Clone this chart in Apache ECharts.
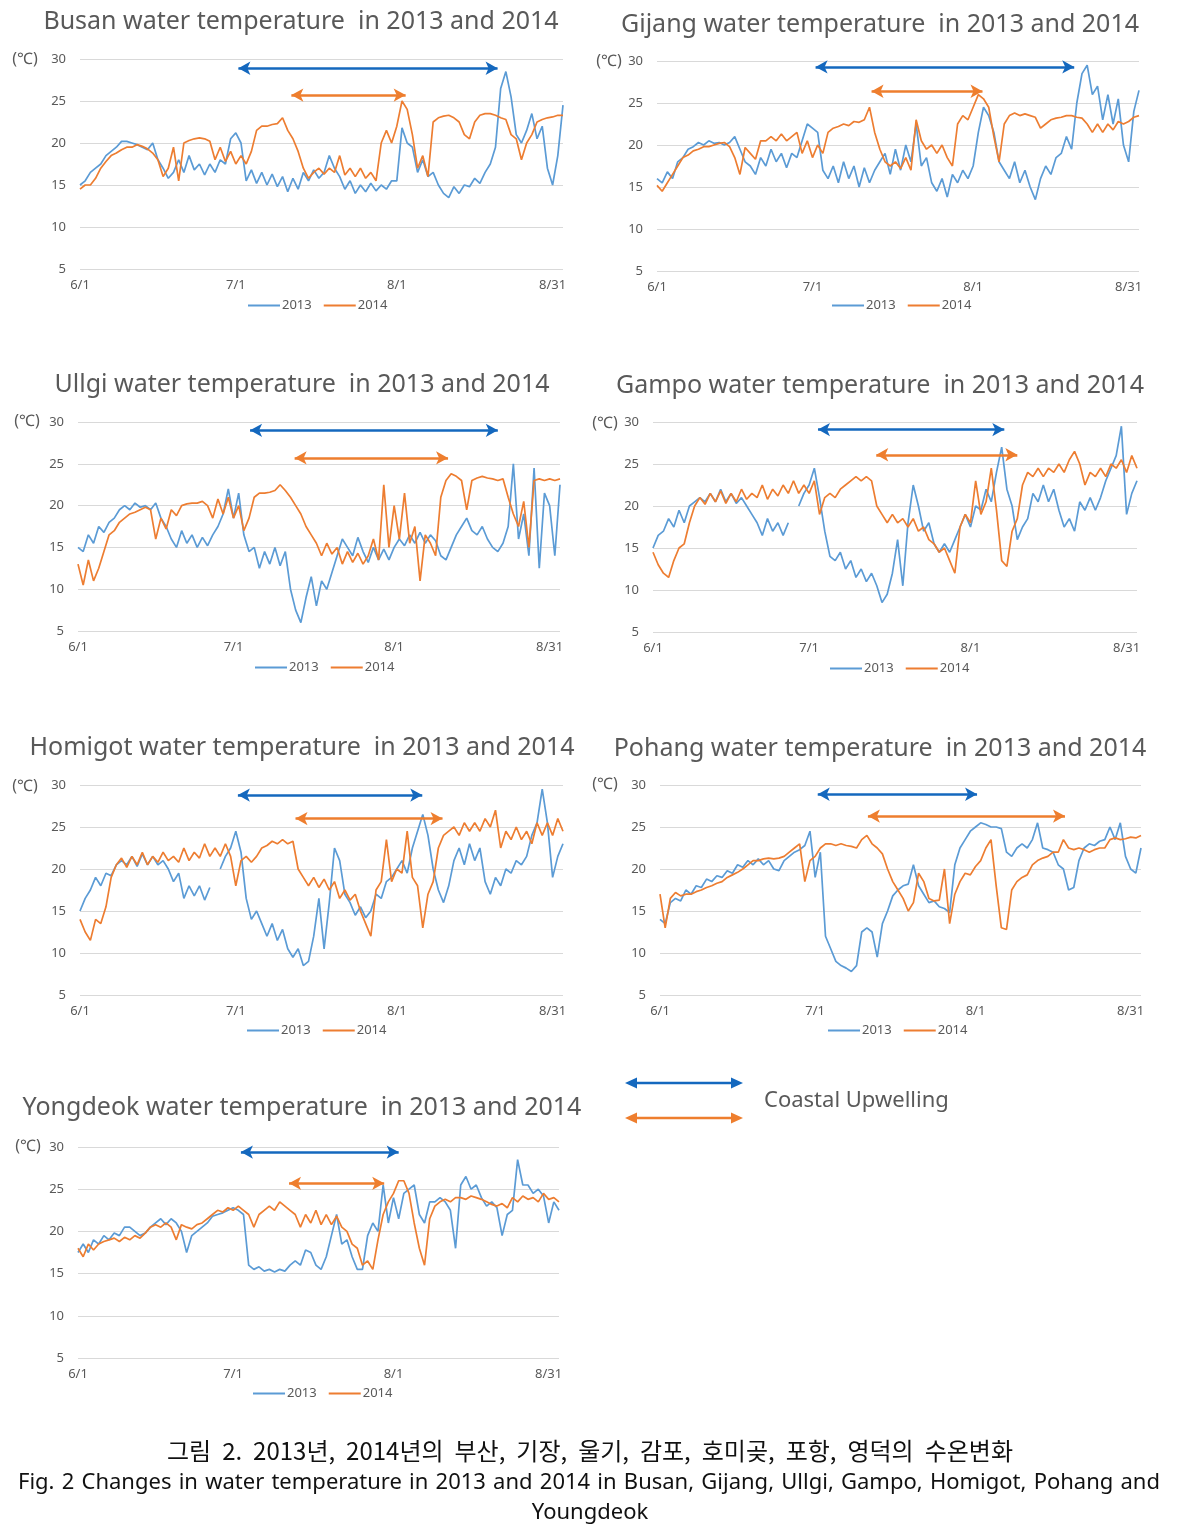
<!DOCTYPE html>
<html><head><meta charset="utf-8">
<script src="https://cdn.jsdelivr.net/npm/echarts@6/dist/echarts.min.js"></script>
<style>html,body{margin:0;padding:0;background:#fff}#c{width:1179px;height:1531px}</style>
</head><body><div id="c"></div>
<script>
// ---- axis ticks (day index from 6/1) ----
const xTickDays = [0, 30, 61, 91];
const xTickLabels = ['6/1', '7/1', '8/1', '8/31'];
const seriesNames = ['2013', '2014'];
const stations = ['Busan', 'Gijang', 'Ullgi', 'Gampo', 'Homigot', 'Pohang', 'Yongdeok'];

// ---- daily water temperature (°C), day 0 = 6/1 ----
const busan2013 = [15,15.5,16.5,17,17.5,18.5,19,19.5,20.2,20.2, 20,19.8,19.5,19.2,20,18,17,15.8,16.5,18, 16.5,18.5,16.8,17.5,16.2,17.5,16.5,18,17.5,20.5, 21.2,20,15.5,16.8,15.2,16.5,15,16.3,14.8,16, 14.2,15.8,14.5,16.5,15.5,16.8,15.8,16.5,18.5,17, 16,14.5,15.5,14,15,14.2,15.2,14.3,15,14.5, 15.5,15.5,21.8,20,19.5,16.5,18,16,16.5,15, 14,13.5,14.8,14,15,14.8,15.8,15.2,16.5,17.5, 19.5,26.5,28.5,25.5,21,20,21.5,23.5,20.5,22, 17,15,18.5,24.5];
const busan2014 = [14.5,15,15,15.8,17,17.8,18.5,18.8,19.2,19.5, 19.5,19.8,19.6,19.3,18.8,18,16,17,19.5,15.5, 20,20.3,20.5,20.6,20.5,20.2,18,19.5,17.8,19, 17.5,18.5,17.5,19,21.5,22,22,22.2,22.3,23, 21.5,20.5,19,17,15.8,16.5,17,16.3,17,16.5, 18.5,16.2,17,16,17,15.8,16.5,15.5,20,21.5, 20,22,25,24,21,17,18.5,16,22.5,23, 23.2,23.3,23,22.5,21,20.5,22.5,23.3,23.5,23.5, 23.3,23,22.8,21,20.5,18,20,21,22.5,22.8, 23,23.1,23.3,23.3];
const gijang2013 = [16,15.5,16.8,16,18,18.5,19.5,19.8,20.3,20, 20.5,20.2,20.3,20,20.3,21,19.5,18,17.5,16.5, 18.5,17.5,19.5,18,19,17.3,19,18.5,20.5,22.5, 22,21.5,17,16,17.5,15.5,18,16,17.5,15, 17.3,15.5,17,18,19,16.5,19.5,17,20,18, 22.5,17.5,18.5,15.5,14.5,16,13.8,16.5,15.5,17, 16,17.5,21.5,24.5,23.5,21.5,18,17,16,18, 15.5,17,15,13.5,16,17.5,16.5,18.5,19,21, 19.5,25,28.5,29.5,26,27,23,26,22.5,25.5, 20,18,24,26.5];
const gijang2014 = [15.2,14.5,15.5,16.5,17.5,18.5,18.8,19.3,19.5,19.8, 19.8,20,20.2,20.3,19.8,18.5,16.5,19.7,19,18.3, 20.5,20.5,21,20.5,21.3,20.5,21,21.5,19,20.5, 18.5,20,19,21.5,22,22.2,22.5,22.3,22.8,22.7, 23,24.5,21.5,19.5,18,17.5,18,17.2,18.5,17, 23,20.5,19.5,20,19,20,18.5,17.5,22.5,23.5, 23,24.5,26,25.5,24.5,21,18,22.5,23.5,23.8, 23.5,23.7,23.5,23.3,22,22.5,23,23.2,23.3,23.5, 23.5,23.3,23.2,22.5,21.5,22.5,21.5,22.5,21.8,22.8, 22.5,22.8,23.3,23.5];
const ullgi2013 = [15,14.5,16.5,15.5,17.5,16.8,18,18.5,19.5,20, 19.5,20.3,19.8,20,19.5,20.3,18.5,17.5,16,15, 17,15.5,16.5,15,16.2,15.2,16.5,17.5,19,22, 18.5,21.5,16.5,14.5,15,12.5,14.5,13,15,12.8, 14.5,10,7.5,6,9,11.5,8,11,10,12, 14,16,15,14,16.2,14.5,13.2,15,13.5,14.8, 13.5,15,16,15.2,16.5,15.5,16.8,15.5,16.5,15.8, 14,13.5,15,16.5,17.5,18.5,17,16.5,17.5,16, 15,14.5,15.5,17.5,25,16,19,14,24.5,12.5, 21.5,20,14,22.5];
const ullgi2014 = [13,10.5,13.5,11,12.5,14.5,16.5,17,18,18.5, 19,19.2,19.5,19.8,19.5,16,18.5,17.2,19.5,18.8, 20,20.2,20.3,20.3,20.5,20,18.5,20.8,19,21, 18.5,20,17,18.5,21,21.5,21.5,21.6,21.8,22.5, 21.8,21,20,19,17.5,16.5,15.5,14,15.5,14.2, 15,13,14.5,13.2,14.3,13,14,16,13.5,22.5, 15,20,16,21.5,15.5,17.5,11,16.5,15.5,14, 21,23,23.8,23.5,23,19.5,23,23.3,23.5,23.3, 23.2,23,23.2,21,19,17.5,20.5,15,23,23.2, 23,23.2,23,23.2];
const gampo2013 = [15,16.5,17,18.5,17.5,19.5,18,20,20.5,21, 20.5,21.5,20.5,22,20.5,21.5,20.3,21,20,19, 18,16.5,18.5,17,18,16.5,18,null,20,21.5, 22.5,24.5,21,17,14,13.5,14.5,12.5,13.5,11.5, 12.5,11,12,10.5,8.5,9.5,12,16,10.5,18, 22.5,20,17,18,15.5,14.5,15.5,14.5,16,17.5, 19,17.5,20,19.5,22,20.5,24,27,22,20, 16,17.5,18.5,21.5,20.5,22.5,20.5,22,19.5,17.5, 18.5,17,20.5,19.5,21,19.5,21,23,24.5,26, 29.5,19,21.5,23];
const gampo2014 = [14.5,13,12,11.5,13.5,15,15.5,18,20,21, 20.2,21.5,20.5,21.8,20.3,21.5,20.5,22,20.8,21.5, 21,22.5,20.8,22,21.2,22.5,21.5,23,21.5,22.5, 21.5,23,19,21,21.5,21,22,22.5,23,23.5, 23,23.5,23,20,19,18,19,18,18.5,17.5, 18.5,17,17.5,16,15.5,14.5,15,13.5,12,17.5, 19,18,23,19,20.5,24.5,19.5,13.5,12.8,17, 18.5,22.5,24,23.5,24.5,23.5,24.5,24,25,24, 25.5,26.5,25,22.5,24,23.5,24.5,23.5,25,24.5, 25.5,24,26,24.5];
const homigot2013 = [15,16.5,17.5,19,18,19.5,19.2,20.5,21,20.5, 21.5,20.3,21.8,20.5,21.5,20.5,21,20,18.5,19.5, 16.5,18,16.8,18,16.3,17.8,null,20,21.5,22.5, 24.5,22,16.5,14,15,13.5,12,13.5,11.5,12.8, 10.5,9.5,10.5,8.5,9,12,16.5,10.5,16,22.5, 21,17,16,14.5,15.5,14.2,15,17,16.5,18.5, 19,20,21,19.5,22.5,24.5,26.5,24,20,17.5, 16,18,21,22.5,20.5,23,21,22.5,18.5,17, 19,18,20,19.5,21,20.5,21.5,24,25.5,29.5, 25.5,19,21.5,23];
const homigot2014 = [14,12.5,11.5,14,13.5,15.5,19,20.5,21.3,20.2, 21.5,20.5,22,20.5,21.5,20.8,22,21,21.5,20.8, 22.5,21,22,21.3,23,21.5,22.5,21.5,23,21.5, 18,21,21.5,20.8,21.5,22.5,22.8,23.3,23,23.5, 23,23.3,20,19,18,19,17.8,18.8,17.5,18.5, 16.5,17.5,16.3,17,15,13.5,12,17.5,18.5,23.5, 18.5,20,19.5,24.5,19,18,13,17,18.5,22.5, 24,24.5,25,24,25.5,24.5,25.5,24.5,26,25, 27,22.5,24.5,23.5,25,23.5,24.5,23,25.5,24, 25.5,24,26,24.5];
const pohang2013 = [14,13.5,16,16.5,16.2,17.5,17,18,17.8,18.8, 18.5,19.2,19,19.8,19.5,20.5,20.2,21,20.5,21.2, 20.5,21,20,19.8,21,21.5,22,22.3,22.8,24.5, 19,22,12,10.5,9,8.5,8.2,7.8,8.5,12.5, 13,12.5,9.5,13.5,15,16.8,17.5,18,18.2,20.5, 18,17,16,16.2,15.5,15.3,14.8,20.5,22.5,23.5, 24.5,25,25.5,25.3,25,25,24.8,22,21.5,22.5, 23,22.5,23.5,25.5,22.5,22.3,22,20.5,20,17.5, 17.8,21,22.5,23,22.8,23.3,23.5,25,23.5,25.5, 21.5,20,19.5,22.5];
const pohang2014 = [17,13,16.5,17.2,16.8,17,17,17.3,17.5,17.8, 18,18.3,18.5,19,19.3,19.6,20,20.5,21,21, 21.2,21.3,21.2,21.3,21.5,22,22.5,23,18.5,21, 21.5,22.5,23,23,22.8,23,22.8,22.7,22.5,23.5, 24,23,22.5,21.8,20,18.5,17.5,16.5,15,16, 19.5,18.5,16.5,16.2,16.3,20,13.5,17,18.5,19.5, 19.3,20.3,21,22.5,23.5,18,13,12.8,17.5,18.5, 19,19.3,20.5,21,21.3,21.5,22,22,23.5,22.5, 22.3,22.5,22.3,22,22.3,22.5,22.5,23.5,23.7,23.5, 23.6,23.8,23.7,24];
const yongdeok2013 = [17.5,18.5,17.5,19,18.5,19.5,19,19.8,19.5,20.5, 20.5,20,19.5,19.8,20.5,21,21.5,20.8,21.5,21, 20,17.5,19.5,20,20.5,21,21.8,22,22.2,22.5, 22.8,22.5,22,16,15.5,15.8,15.3,15.5,15.2,15.5, 15.3,16,16.5,16,17.8,17.5,16,15.5,17,19.5, 22,18.5,19,17,15.5,15.5,19.5,21,20,25.5, 21,24,21.5,24.5,25,25.5,22,21,23.5,23.5, 24,23.5,22.5,18,25.5,26.5,25,25.5,24,23, 23.5,22.8,19.5,22,22.5,28.5,25.5,25.5,24.5,25, 24.2,21,23.5,22.5];
const yongdeok2014 = [18,17,18.5,17.8,18.5,18.8,19,19.2,18.8,19.3, 19,19.5,19.2,19.8,20.5,20.8,20.5,21,20.5,19, 20.8,20.5,20.3,20.8,21,21.5,22,22.5,22.3,22.8, 22.5,23,22.5,22,20.5,22,22.5,23,22.5,23.5, 23,22.5,22,20.5,22,21,22.5,20.8,22,20.8, 21.8,20.5,20,18.5,18,16,16.5,15.5,19,22, 23.5,24.5,26,26,24.5,21,18,16,21.5,23, 23.5,23.8,23.5,24,24,23.8,24.2,24,23.8,23.5, 23.2,23,23.3,22.8,24,23.5,24.2,23.8,24,23.5, 24.5,23.8,24,23.5];

// ---- coastal upwelling periods: [start day, end day, drawn at °C level] ----
const upwelling2013 = [[30.5,80.4,28.9],[30.6,80.5,29.3],[33.2,81,29],[31.7,67.5,29.1],[30.4,65.9,28.8],[30.5,61.3,28.9],[31.5,62,29.4]];
const upwelling2014 = [[40.7,62.7,25.7],[41.4,62.8,26.4],[41.8,71.4,25.7],[42.9,70,26.1],[41.5,69.8,26],[40.2,78.3,26.3],[40.8,59.2,25.7]];

const data2013 = [busan2013, gijang2013, ullgi2013, gampo2013, homigot2013, pohang2013, yongdeok2013];
const data2014 = [busan2014, gijang2014, ullgi2014, gampo2014, homigot2014, pohang2014, yongdeok2014];

// ---- layout (pixels) ----
const layout = [
  {left:80,  top:59,   width:483, height:210, title:[301,22],  unit:[25,59],   legend:[243,302]},
  {left:657, top:61,   width:482, height:210, title:[880,25],  unit:[609,61],  legend:[827,302]},
  {left:78,  top:422,  width:482, height:209, title:[302,385], unit:[27,421],  legend:[250,664]},
  {left:653, top:422,  width:484, height:210, title:[880,386], unit:[605,423], legend:[825,665]},
  {left:80,  top:785,  width:483, height:210, title:[302,748], unit:[25,786],  legend:[242,1027]},
  {left:660, top:785,  width:481, height:210, title:[880,749], unit:[605,784], legend:[823,1027]},
  {left:78,  top:1147, width:481, height:211, title:[302,1108],unit:[28,1146], legend:[248,1390]}
];

const BLUE = '#5B9BD5', ORANGE = '#ED7D31', ARROW_BLUE = '#1468BE', ARROW_ORANGE = '#EE7E2E', GREY = '#595959';
const UI = "'Noto Sans','DejaVu Sans',sans-serif";

function pairs(arr) { return arr.map((v, i) => [i, v === null ? '-' : v]); }

function upMark(p, color) {
  return {
    silent: true, animation: false,
    symbol: ['arrow', 'arrow'], symbolSize: [10, 12],
    label: {show: false}, emphasis: {disabled: true},
    lineStyle: {color: color, width: 2.5, type: 'solid', opacity: 1},
    data: [[{coord: [p[0], p[2]]}, {coord: [p[1], p[2]]}]]
  };
}

const grid = [], xAxis = [], yAxis = [], series = [], legend = [], graphic = [];
layout.forEach((L, i) => {
  grid.push({left: L.left, top: L.top, width: L.width, height: L.height, containLabel: false, outerBoundsMode: 'none'});
  xAxis.push({type: 'value', gridIndex: i, min: 0, max: 93,
    axisLine: {show: false}, axisTick: {show: false}, splitLine: {show: false},
    axisLabel: {customValues: xTickDays, formatter: v => xTickLabels[xTickDays.indexOf(v)] || '',
      fontSize: 13, color: GREY, margin: 10, fontFamily: UI}});
  yAxis.push({type: 'value', gridIndex: i, min: 5, max: 30, interval: 5,
    axisLine: {show: false}, axisTick: {show: false},
    splitLine: {lineStyle: {color: '#D9D9D9', width: 1.2}},
    axisLabel: {fontSize: 13, color: GREY, margin: 14, fontFamily: UI}});
  series.push({type: 'line', name: seriesNames[0], xAxisIndex: i, yAxisIndex: i, data: pairs(data2013[i]),
    showSymbol: false, symbol: 'none', connectNulls: false, z: 2,
    lineStyle: {width: 1.7, color: BLUE}, itemStyle: {color: BLUE},
    markLine: upMark(upwelling2013[i], ARROW_BLUE)});
  series.push({type: 'line', name: seriesNames[1], xAxisIndex: i, yAxisIndex: i, data: pairs(data2014[i]),
    showSymbol: false, symbol: 'none', connectNulls: false, z: 3,
    lineStyle: {width: 1.7, color: ORANGE}, itemStyle: {color: ORANGE},
    markLine: upMark(upwelling2014[i], ARROW_ORANGE)});
  legend.push({left: L.legend[0], top: L.legend[1] - 8, icon: 'rect', itemWidth: 32, itemHeight: 2, itemGap: 12,
    selectedMode: false, data: seriesNames, textStyle: {fontSize: 13, color: GREY, fontFamily: UI, padding: [0, 0, 0, -3]}});
  graphic.push({type: 'text', x: L.title[0], y: L.title[1], style: {
    text: stations[i] + ' water temperature  in 2013 and 2014', font: "25px " + UI, fill: GREY,
    textAlign: 'center', textVerticalAlign: 'middle'}});
  graphic.push({type: 'text', x: L.unit[0], y: L.unit[1], style: {
    text: '(℃)', font: "16px " + UI, fill: GREY, textAlign: 'center', textVerticalAlign: 'middle'}});
});

// Coastal upwelling key
function keyArrow(y, color) {
  return [
    {type: 'line', shape: {x1: 634, y1: y, x2: 734, y2: y}, style: {stroke: color, lineWidth: 2.5}},
    {type: 'polygon', shape: {points: [[625, y], [637, y - 5.5], [637, y + 5.5]]}, style: {fill: color}},
    {type: 'polygon', shape: {points: [[743, y], [731, y - 5.5], [731, y + 5.5]]}, style: {fill: color}}
  ];
}
graphic.push(...keyArrow(1083, ARROW_BLUE), ...keyArrow(1118, ARROW_ORANGE));
graphic.push({type: 'text', x: 764, y: 1101, style: {text: 'Coastal Upwelling', font: "22px " + UI,
  fill: GREY, textAlign: 'left', textVerticalAlign: 'middle'}});

// Caption (justified like the source)
function justified(text, x0, x1, y, font) {
  const ctx = document.createElement('canvas').getContext('2d');
  ctx.font = font;
  const words = text.split(' ');
  const ws = words.map(w => ctx.measureText(w).width);
  const total = ws.reduce((a, b) => a + b, 0);
  const gap = (x1 - x0 - total) / (words.length - 1);
  let x = x0;
  return words.map((w, k) => {
    const el = {type: 'text', x: x, y: y, style: {text: w, font: font, fill: '#111', textAlign: 'left', textVerticalAlign: 'middle'}};
    x += ws[k] + gap;
    return el;
  });
}
graphic.push(...justified('그림 2. 2013년, 2014년의 부산, 기장, 울기, 감포, 호미곶, 포항, 영덕의 수온변화',
  167, 1013, 1451, "24px 'Noto Sans CJK KR',sans-serif"));
graphic.push(...justified('Fig. 2 Changes in water temperature in 2013 and 2014 in Busan, Gijang, Ullgi, Gampo, Homigot, Pohang and',
  18, 1160, 1483, "22px " + UI));
graphic.push({type: 'text', x: 590, y: 1513, style: {text: 'Youngdeok', font: "22px " + UI, fill: '#111',
  textAlign: 'center', textVerticalAlign: 'middle'}});

const chart = echarts.init(document.getElementById('c'), null, {renderer: 'canvas', width: 1179, height: 1531});
chart.setOption({
  animation: false,
  backgroundColor: '#ffffff',
  grid: grid, xAxis: xAxis, yAxis: yAxis, series: series, legend: legend, graphic: graphic,
  tooltip: {show: false}
});
</script>
</body></html>
